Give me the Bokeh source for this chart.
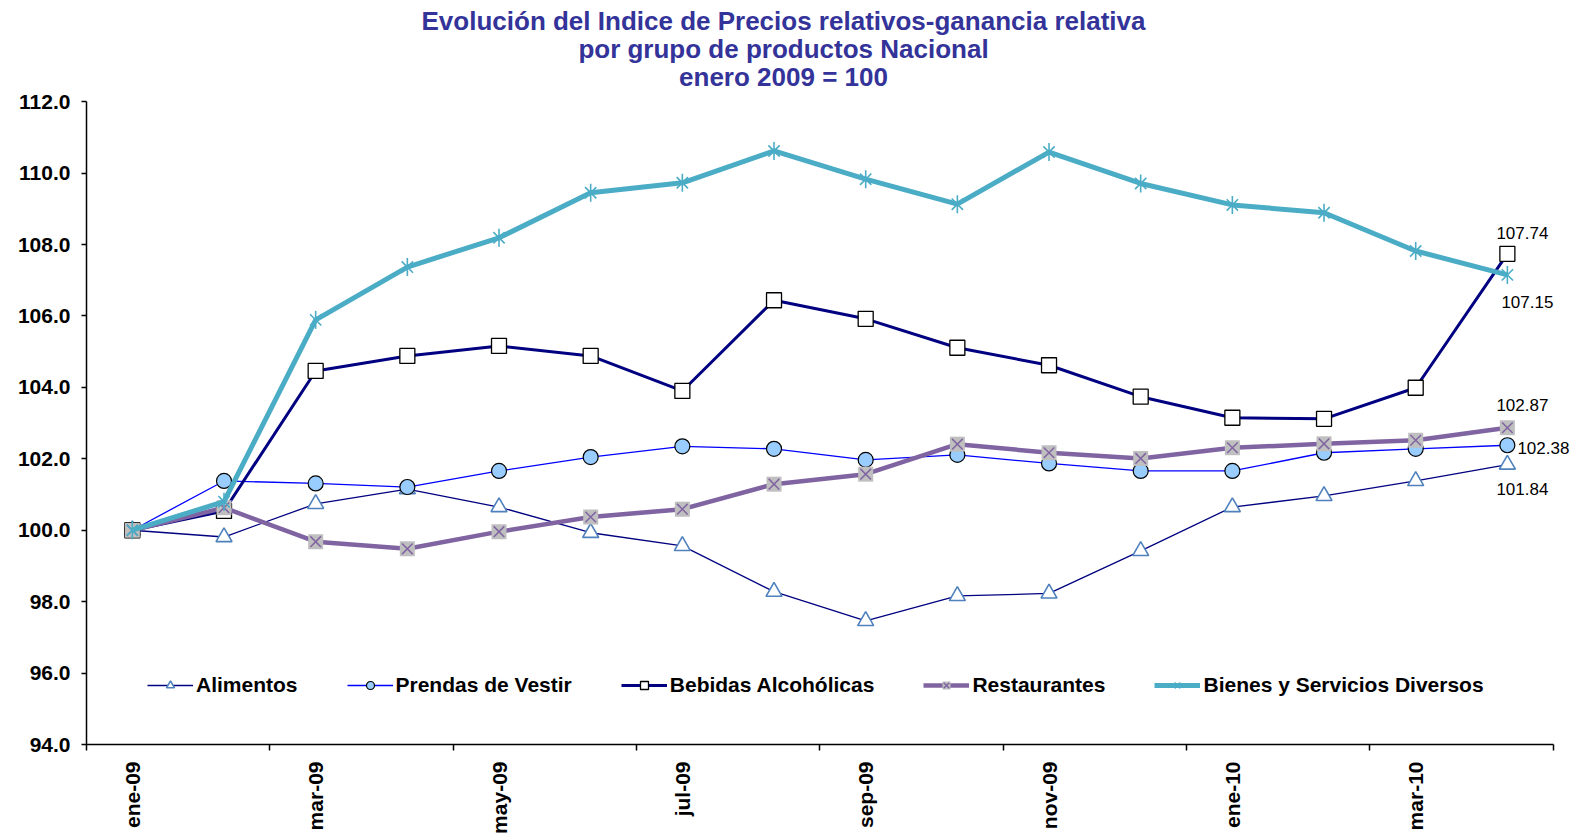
from math import pi
from bokeh.plotting import figure
from bokeh.models import (FixedTicker, Legend, LegendItem, LabelSet, Label, ColumnDataSource,
                          Range1d, NumeralTickFormatter)
from bokeh.core.properties import value
from bokeh.embed import file_html
from bokeh.resources import INLINE

months = ["ene-09", "feb-09", "mar-09", "abr-09", "may-09", "jun-09", "jul-09", "ago-09",
          "sep-09", "oct-09", "nov-09", "dic-09", "ene-10", "feb-10", "mar-10", "abr-10"]

alimentos = [100.00, 99.81, 100.74, 101.15, 100.65, 99.93, 99.56, 98.28,
             97.46, 98.16, 98.23, 99.42, 100.65, 100.96, 101.38, 101.84]
prendas = [100.00, 101.38, 101.31, 101.21, 101.66, 102.05, 102.35, 102.28,
           101.97, 102.11, 101.87, 101.66, 101.66, 102.17, 102.28, 102.38]
bebidas = [100.00, 100.54, 104.46, 104.88, 105.16, 104.88, 103.90, 106.44,
           105.92, 105.11, 104.62, 103.74, 103.15, 103.12, 103.99, 107.74]
restaurantes = [100.00, 100.63, 99.68, 99.48, 99.96, 100.37, 100.59, 101.29,
                101.57, 102.41, 102.17, 102.01, 102.31, 102.42, 102.52, 102.87]
bienes = [100.00, 100.80, 105.89, 107.37, 108.19, 109.45, 109.73, 110.62,
          109.83, 109.13, 110.59, 109.71, 109.11, 108.89, 107.82, 107.15]

series_names = ["Alimentos", "Prendas de Vestir", "Bebidas Alcohólicas",
                "Restaurantes", "Bienes y Servicios Diversos"]
y_ticks = [94, 96, 98, 100, 102, 104, 106, 108, 110, 112]
title_lines = ["Evolución del Indice de Precios relativos-ganancia relativa",
               "por grupo de productos Nacional",
               "enero 2009 = 100"]

FONT = "Liberation Sans"
x = list(range(len(months)))
n = len(months)

# frame is extended above (room for the title) and to the right (room for value labels);
# axis lines are limited with `bounds`
X_PAD = 0.265
Y_PAD = 2.834
p = figure(width=1577, height=836, x_range=Range1d(-0.5, n - 0.5 + X_PAD),
           y_range=Range1d(y_ticks[0], y_ticks[-1] + Y_PAD), output_backend="svg",
           toolbar_location=None, title=None,
           min_border_left=86, min_border_right=0, min_border_top=0, min_border_bottom=92)
p.outline_line_color = None
p.grid.visible = False
p.background_fill_color = "white"
p.border_fill_color = "white"

# x axis
xa = p.xaxis[0]
xa.bounds = (-0.5, n - 0.5)
xa.ticker = FixedTicker(ticks=x[::2], minor_ticks=[i - 0.5 for i in range(0, n + 1, 2)])
xa.major_label_overrides = {i: months[i] for i in x[::2]}
xa.major_tick_out = 0
xa.major_tick_in = 0
xa.minor_tick_out = 6
xa.minor_tick_in = 0
xa.minor_tick_line_color = "black"
xa.minor_tick_line_width = 1.5
xa.axis_line_color = "black"
xa.axis_line_width = 1.5
xa.major_label_orientation = pi / 2
xa.major_label_standoff = 11
xa.major_label_text_font = FONT
xa.major_label_text_font_style = "bold"
xa.major_label_text_font_size = "21px"
xa.major_label_text_color = "black"

# y axis
ya = p.yaxis[0]
ya.bounds = (y_ticks[0], y_ticks[-1])
ya.ticker = FixedTicker(ticks=y_ticks)
ya.formatter = NumeralTickFormatter(format="0.0")
ya.minor_tick_line_color = None
ya.major_tick_out = 5
ya.major_tick_in = 0
ya.major_tick_line_color = "black"
ya.major_tick_line_width = 1.5
ya.axis_line_color = "black"
ya.axis_line_width = 1.5
ya.major_label_standoff = 11
ya.major_label_text_font = FONT
ya.major_label_text_font_style = "bold"
ya.major_label_text_font_size = "21px"
ya.major_label_text_color = "black"

items = []

r1 = p.line(x, alimentos, line_color="#000080", line_width=1.3)
m1 = p.scatter(x, alimentos, marker="triangle", size=16, fill_color="white",
               line_color="#4F81BD", line_width=1.6)
items.append(LegendItem(label=series_names[0], renderers=[r1, m1]))

r2 = p.line(x, prendas, line_color="#0000FF", line_width=1.3)
m2 = p.scatter(x, prendas, marker="circle", size=15, fill_color="#99CCFF",
               line_color="black", line_width=1.2)
items.append(LegendItem(label=series_names[1], renderers=[r2, m2]))

r3 = p.line(x, bebidas, line_color="#000080", line_width=3)
m3 = p.scatter(x, bebidas, marker="square", size=15, fill_color="white",
               line_color="black", line_width=1.3)
items.append(LegendItem(label=series_names[2], renderers=[r3, m3]))

r4 = p.line(x, restaurantes, line_color="#8064A2", line_width=4.5)
m4a = p.scatter(x, restaurantes, marker="square", size=15, fill_color="#BFBFBF",
                line_color=None)
m4b = p.scatter(x, restaurantes, marker="x", size=15, line_color="#8064A2", line_width=1.5)
items.append(LegendItem(label=series_names[3], renderers=[r4, m4a, m4b]))

r5 = p.line(x, bienes, line_color="#4BACC6", line_width=5)
m5a = p.scatter(x, bienes, marker="x", size=16, line_color="#4BACC6", line_width=1.6)
m5b = p.scatter(x, bienes, marker="dash", angle=pi / 2, size=18, line_color="#4BACC6",
                line_width=1.6)
items.append(LegendItem(label=series_names[4], renderers=[r5, m5a, m5b]))

legend = Legend(items=items, orientation="horizontal", location=(61, 47),
                glyph_width=46, glyph_height=20, label_standoff=3, spacing=49,
                padding=0, margin=0, border_line_color=None, background_fill_alpha=0,
                label_text_font=FONT, label_text_font_style="bold",
                label_text_font_size="21px", label_text_color="black")
p.add_layout(legend)

# end-of-series value labels
last = n - 1
ends = [bebidas[-1], bienes[-1], restaurantes[-1], prendas[-1], alimentos[-1]]
lab = ColumnDataSource(dict(
    x=[last] * 5,
    y=ends,
    t=["%.2f" % v for v in ends],
    dx=[15, 20, 15, 36, 15],
    dy=[21, -27, 23, -3, -24],
))
p.add_layout(LabelSet(x="x", y="y", text="t", source=lab, x_offset="dx", y_offset="dy",
                      text_align="center", text_baseline="middle",
                      text_font=value(FONT), text_font_size="17px", text_color="black"))

# title lines (screen units, measured from the frame's bottom-left corner)
title_y = [724, 696, 668]
for line, ty in zip(title_lines, title_y):
    p.add_layout(Label(x=697, y=ty, x_units="screen", y_units="screen", text=line,
                       text_align="center", text_baseline="middle",
                       text_font=FONT, text_font_style="bold", text_font_size="26px",
                       text_color="#333399"))

open("out.html", "w").write(file_html(p, INLINE))
